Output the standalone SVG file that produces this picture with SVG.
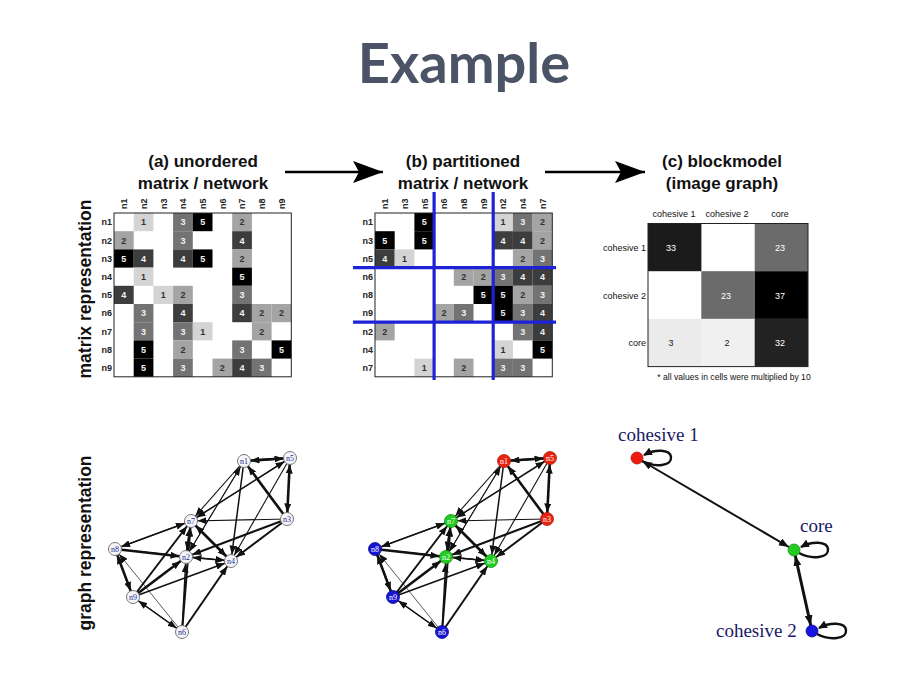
<svg xmlns="http://www.w3.org/2000/svg" width="914" height="673" viewBox="0 0 914 673">
<style>
.title{font-family:Lato,"Liberation Sans",sans-serif;font-weight:bold;font-size:56px;fill:#4a5466;text-anchor:middle}
.hdr{font-family:"Liberation Sans",Arial,sans-serif;font-weight:bold;font-size:17px;fill:#111;text-anchor:middle}
.side{font-family:"Liberation Sans",Arial,sans-serif;font-weight:bold;font-size:17.5px;fill:#111;text-anchor:middle}
.m text{font-family:"Liberation Sans",Arial,sans-serif;font-weight:bold;font-size:9px;text-anchor:middle}
.m .lab{fill:#222}
.m .rl{text-anchor:end}
.m .cl{text-anchor:start}
.c1{fill:#d4d4d4}.c2{fill:#a4a4a4}.c3{fill:#737373}.c4{fill:#3d3d3d}.c5{fill:#000}
.tk{fill:#333}.tw{fill:#f2f2f2}
.frame{fill:none;stroke:#222;stroke-width:1}
.blue{stroke:#1e22d6;stroke-width:3.2}
.bm text{font-family:"Liberation Sans",Arial,sans-serif;font-size:9px;fill:#111;text-anchor:middle}
.bm .rl{text-anchor:end}
.bm .vw{fill:#fff}
.bm .vd{fill:#222}
.e line{stroke:#111;fill:none;marker-end:url(#ah)}
.w1{stroke-width:0.7}.w2{stroke-width:1.1}.w3{stroke-width:1.5}.w4{stroke-width:2}.w5{stroke-width:2.6}
.na circle{fill:#f5f5fb;stroke:#777;stroke-width:1}
.na text{font-family:"Liberation Serif","Times New Roman",serif;font-size:8px;fill:#2a2a8e;text-anchor:middle}
.nb text{font-family:"Liberation Serif","Times New Roman",serif;font-size:8px;fill:#fff;text-anchor:middle}
.red{fill:#e8230f;stroke:#b01a0a;stroke-width:0.8}
.grn{fill:#22cc22;stroke:#159015;stroke-width:0.8}
.blu{fill:#1616d2;stroke:#0c0c90;stroke-width:0.8}
.gl{font-family:"Liberation Serif","Times New Roman",serif;font-size:19px;fill:#1a1a66}
</style>
<defs>
<marker id="ah" markerUnits="userSpaceOnUse" markerWidth="9" markerHeight="7" refX="15.5" refY="3.5" orient="auto"><path d="M0,0 L9,3.5 L0,7 z" fill="#111"/></marker>
<marker id="ahc" markerUnits="userSpaceOnUse" markerWidth="10" markerHeight="8" refX="16" refY="4" orient="auto-start-reverse"><path d="M0,0 L10,4 L0,8 z" fill="#111"/></marker>
<marker id="ahl" markerUnits="userSpaceOnUse" markerWidth="9" markerHeight="8" refX="8" refY="4" orient="auto"><path d="M0,0 L9,4 L0,8 z" fill="#111"/></marker>
<marker id="big" markerUnits="userSpaceOnUse" markerWidth="30" markerHeight="22" refX="30" refY="11" orient="auto"><path d="M0,0 L30,11 L0,22 L6,11 z" fill="#000"/></marker>
</defs>
<rect width="914" height="673" fill="#fff"/>
<text class="title" x="464" y="83">Example</text>

<g id="headers">
<text class="hdr" x="203" y="167">(a) unordered</text>
<text class="hdr" x="203" y="189">matrix / network</text>
<text class="hdr" x="463" y="167">(b) partitioned</text>
<text class="hdr" x="463" y="189">matrix / network</text>
<text class="hdr" x="722" y="167">(c) blockmodel</text>
<text class="hdr" x="722" y="189">(image graph)</text>
</g>
<g id="flow-arrows" stroke="#000" stroke-width="2.5">
<line x1="285" y1="172" x2="383" y2="172" marker-end="url(#big)"/>
<line x1="545" y1="172" x2="645" y2="172" marker-end="url(#big)"/>
</g>
<text class="side" transform="translate(91,289) rotate(-90)">matrix representation</text>
<text class="side" transform="translate(91,543) rotate(-90)">graph representation</text>

<!-- matrix (a) -->
<g id="matrix-a" class="m" transform="translate(114,213)">
<g class="lab">
<text class="cl" transform="translate(13.15,-4) rotate(-90)">n1</text>
<text class="cl" transform="translate(32.85,-4) rotate(-90)">n2</text>
<text class="cl" transform="translate(52.55,-4) rotate(-90)">n3</text>
<text class="cl" transform="translate(72.25,-4) rotate(-90)">n4</text>
<text class="cl" transform="translate(91.95,-4) rotate(-90)">n5</text>
<text class="cl" transform="translate(111.65,-4) rotate(-90)">n6</text>
<text class="cl" transform="translate(131.35,-4) rotate(-90)">n7</text>
<text class="cl" transform="translate(151.05,-4) rotate(-90)">n8</text>
<text class="cl" transform="translate(170.75,-4) rotate(-90)">n9</text>
<text class="rl" x="-2" y="12.3">n1</text>
<text class="rl" x="-2" y="30.5">n2</text>
<text class="rl" x="-2" y="48.7">n3</text>
<text class="rl" x="-2" y="66.9">n4</text>
<text class="rl" x="-2" y="85.1">n5</text>
<text class="rl" x="-2" y="103.3">n6</text>
<text class="rl" x="-2" y="121.5">n7</text>
<text class="rl" x="-2" y="139.7">n8</text>
<text class="rl" x="-2" y="157.9">n9</text>
</g>
<rect class="c1" x="19.7" y="0" width="19.7" height="18.2"/><text class="tk" x="29.55" y="12.3">1</text>
<rect class="c3" x="59.1" y="0" width="19.7" height="18.2"/><text class="tw" x="68.95" y="12.3">3</text>
<rect class="c5" x="78.8" y="0" width="19.7" height="18.2"/><text class="tw" x="88.65" y="12.3">5</text>
<rect class="c2" x="118.2" y="0" width="19.7" height="18.2"/><text class="tk" x="128.05" y="12.3">2</text>

<rect class="c2" x="0" y="18.2" width="19.7" height="18.2"/><text class="tk" x="9.85" y="30.5">2</text>
<rect class="c3" x="59.1" y="18.2" width="19.7" height="18.2"/><text class="tw" x="68.95" y="30.5">3</text>
<rect class="c4" x="118.2" y="18.2" width="19.7" height="18.2"/><text class="tw" x="128.05" y="30.5">4</text>

<rect class="c5" x="0" y="36.4" width="19.7" height="18.2"/><text class="tw" x="9.85" y="48.7">5</text>
<rect class="c4" x="19.7" y="36.4" width="19.7" height="18.2"/><text class="tw" x="29.55" y="48.7">4</text>
<rect class="c4" x="59.1" y="36.4" width="19.7" height="18.2"/><text class="tw" x="68.95" y="48.7">4</text>
<rect class="c5" x="78.8" y="36.4" width="19.7" height="18.2"/><text class="tw" x="88.65" y="48.7">5</text>
<rect class="c2" x="118.2" y="36.4" width="19.7" height="18.2"/><text class="tk" x="128.05" y="48.7">2</text>

<rect class="c1" x="19.7" y="54.6" width="19.7" height="18.2"/><text class="tk" x="29.55" y="66.9">1</text>
<rect class="c5" x="118.2" y="54.6" width="19.7" height="18.2"/><text class="tw" x="128.05" y="66.9">5</text>

<rect class="c4" x="0" y="72.8" width="19.7" height="18.2"/><text class="tw" x="9.85" y="85.1">4</text>
<rect class="c1" x="39.4" y="72.8" width="19.7" height="18.2"/><text class="tk" x="49.25" y="85.1">1</text>
<rect class="c2" x="59.1" y="72.8" width="19.7" height="18.2"/><text class="tk" x="68.95" y="85.1">2</text>
<rect class="c3" x="118.2" y="72.8" width="19.7" height="18.2"/><text class="tw" x="128.05" y="85.1">3</text>

<rect class="c3" x="19.7" y="91" width="19.7" height="18.2"/><text class="tw" x="29.55" y="103.3">3</text>
<rect class="c4" x="59.1" y="91" width="19.7" height="18.2"/><text class="tw" x="68.95" y="103.3">4</text>
<rect class="c4" x="118.2" y="91" width="19.7" height="18.2"/><text class="tw" x="128.05" y="103.3">4</text>
<rect class="c2" x="137.9" y="91" width="19.7" height="18.2"/><text class="tk" x="147.75" y="103.3">2</text>
<rect class="c2" x="157.6" y="91" width="19.7" height="18.2"/><text class="tk" x="167.45" y="103.3">2</text>

<rect class="c3" x="19.7" y="109.2" width="19.7" height="18.2"/><text class="tw" x="29.55" y="121.5">3</text>
<rect class="c3" x="59.1" y="109.2" width="19.7" height="18.2"/><text class="tw" x="68.95" y="121.5">3</text>
<rect class="c1" x="78.8" y="109.2" width="19.7" height="18.2"/><text class="tk" x="88.65" y="121.5">1</text>
<rect class="c2" x="137.9" y="109.2" width="19.7" height="18.2"/><text class="tk" x="147.75" y="121.5">2</text>

<rect class="c5" x="19.7" y="127.4" width="19.7" height="18.2"/><text class="tw" x="29.55" y="139.7">5</text>
<rect class="c2" x="59.1" y="127.4" width="19.7" height="18.2"/><text class="tk" x="68.95" y="139.7">2</text>
<rect class="c3" x="118.2" y="127.4" width="19.7" height="18.2"/><text class="tw" x="128.05" y="139.7">3</text>
<rect class="c5" x="157.6" y="127.4" width="19.7" height="18.2"/><text class="tw" x="167.45" y="139.7">5</text>

<rect class="c5" x="19.7" y="145.6" width="19.7" height="18.2"/><text class="tw" x="29.55" y="157.9">5</text>
<rect class="c3" x="59.1" y="145.6" width="19.7" height="18.2"/><text class="tw" x="68.95" y="157.9">3</text>
<rect class="c2" x="98.5" y="145.6" width="19.7" height="18.2"/><text class="tk" x="108.35" y="157.9">2</text>
<rect class="c4" x="118.2" y="145.6" width="19.7" height="18.2"/><text class="tw" x="128.05" y="157.9">4</text>
<rect class="c3" x="137.9" y="145.6" width="19.7" height="18.2"/><text class="tw" x="147.75" y="157.9">3</text>
<rect class="frame" x="0" y="0" width="177.3" height="163.8"/>
</g>

<!-- matrix (b) -->
<g id="matrix-b" class="m" transform="translate(375,213)">
<g class="lab">
<text class="cl" transform="translate(13.15,-4) rotate(-90)">n1</text>
<text class="cl" transform="translate(32.85,-4) rotate(-90)">n3</text>
<text class="cl" transform="translate(52.55,-4) rotate(-90)">n5</text>
<text class="cl" transform="translate(72.25,-4) rotate(-90)">n6</text>
<text class="cl" transform="translate(91.95,-4) rotate(-90)">n8</text>
<text class="cl" transform="translate(111.65,-4) rotate(-90)">n9</text>
<text class="cl" transform="translate(131.35,-4) rotate(-90)">n2</text>
<text class="cl" transform="translate(151.05,-4) rotate(-90)">n4</text>
<text class="cl" transform="translate(170.75,-4) rotate(-90)">n7</text>
<text class="rl" x="-2" y="12.3">n1</text>
<text class="rl" x="-2" y="30.5">n3</text>
<text class="rl" x="-2" y="48.7">n5</text>
<text class="rl" x="-2" y="66.9">n6</text>
<text class="rl" x="-2" y="85.1">n8</text>
<text class="rl" x="-2" y="103.3">n9</text>
<text class="rl" x="-2" y="121.5">n2</text>
<text class="rl" x="-2" y="139.7">n4</text>
<text class="rl" x="-2" y="157.9">n7</text>
</g>
<rect class="c5" x="39.4" y="0" width="19.7" height="18.2"/><text class="tw" x="49.25" y="12.3">5</text>
<rect class="c1" x="118.2" y="0" width="19.7" height="18.2"/><text class="tk" x="128.05" y="12.3">1</text>
<rect class="c3" x="137.9" y="0" width="19.7" height="18.2"/><text class="tw" x="147.75" y="12.3">3</text>
<rect class="c2" x="157.6" y="0" width="19.7" height="18.2"/><text class="tk" x="167.45" y="12.3">2</text>

<rect class="c5" x="0" y="18.2" width="19.7" height="18.2"/><text class="tw" x="9.85" y="30.5">5</text>
<rect class="c5" x="39.4" y="18.2" width="19.7" height="18.2"/><text class="tw" x="49.25" y="30.5">5</text>
<rect class="c4" x="118.2" y="18.2" width="19.7" height="18.2"/><text class="tw" x="128.05" y="30.5">4</text>
<rect class="c4" x="137.9" y="18.2" width="19.7" height="18.2"/><text class="tw" x="147.75" y="30.5">4</text>
<rect class="c2" x="157.6" y="18.2" width="19.7" height="18.2"/><text class="tk" x="167.45" y="30.5">2</text>

<rect class="c4" x="0" y="36.4" width="19.7" height="18.2"/><text class="tw" x="9.85" y="48.7">4</text>
<rect class="c1" x="19.7" y="36.4" width="19.7" height="18.2"/><text class="tk" x="29.55" y="48.7">1</text>
<rect class="c2" x="137.9" y="36.4" width="19.7" height="18.2"/><text class="tk" x="147.75" y="48.7">2</text>
<rect class="c3" x="157.6" y="36.4" width="19.7" height="18.2"/><text class="tw" x="167.45" y="48.7">3</text>

<rect class="c2" x="78.8" y="54.6" width="19.7" height="18.2"/><text class="tk" x="88.65" y="66.9">2</text>
<rect class="c2" x="98.5" y="54.6" width="19.7" height="18.2"/><text class="tk" x="108.35" y="66.9">2</text>
<rect class="c3" x="118.2" y="54.6" width="19.7" height="18.2"/><text class="tw" x="128.05" y="66.9">3</text>
<rect class="c4" x="137.9" y="54.6" width="19.7" height="18.2"/><text class="tw" x="147.75" y="66.9">4</text>
<rect class="c4" x="157.6" y="54.6" width="19.7" height="18.2"/><text class="tw" x="167.45" y="66.9">4</text>

<rect class="c5" x="98.5" y="72.8" width="19.7" height="18.2"/><text class="tw" x="108.35" y="85.1">5</text>
<rect class="c5" x="118.2" y="72.8" width="19.7" height="18.2"/><text class="tw" x="128.05" y="85.1">5</text>
<rect class="c2" x="137.9" y="72.8" width="19.7" height="18.2"/><text class="tk" x="147.75" y="85.1">2</text>
<rect class="c3" x="157.6" y="72.8" width="19.7" height="18.2"/><text class="tw" x="167.45" y="85.1">3</text>

<rect class="c2" x="59.1" y="91" width="19.7" height="18.2"/><text class="tk" x="68.95" y="103.3">2</text>
<rect class="c3" x="78.8" y="91" width="19.7" height="18.2"/><text class="tw" x="88.65" y="103.3">3</text>
<rect class="c5" x="118.2" y="91" width="19.7" height="18.2"/><text class="tw" x="128.05" y="103.3">5</text>
<rect class="c3" x="137.9" y="91" width="19.7" height="18.2"/><text class="tw" x="147.75" y="103.3">3</text>
<rect class="c4" x="157.6" y="91" width="19.7" height="18.2"/><text class="tw" x="167.45" y="103.3">4</text>

<rect class="c2" x="0" y="109.2" width="19.7" height="18.2"/><text class="tk" x="9.85" y="121.5">2</text>
<rect class="c3" x="137.9" y="109.2" width="19.7" height="18.2"/><text class="tw" x="147.75" y="121.5">3</text>
<rect class="c4" x="157.6" y="109.2" width="19.7" height="18.2"/><text class="tw" x="167.45" y="121.5">4</text>

<rect class="c1" x="118.2" y="127.4" width="19.7" height="18.2"/><text class="tk" x="128.05" y="139.7">1</text>
<rect class="c5" x="157.6" y="127.4" width="19.7" height="18.2"/><text class="tw" x="167.45" y="139.7">5</text>

<rect class="c1" x="39.4" y="145.6" width="19.7" height="18.2"/><text class="tk" x="49.25" y="157.9">1</text>
<rect class="c2" x="78.8" y="145.6" width="19.7" height="18.2"/><text class="tk" x="88.65" y="157.9">2</text>
<rect class="c3" x="118.2" y="145.6" width="19.7" height="18.2"/><text class="tw" x="128.05" y="157.9">3</text>
<rect class="c3" x="137.9" y="145.6" width="19.7" height="18.2"/><text class="tw" x="147.75" y="157.9">3</text>
<rect class="frame" x="0" y="0" width="177.3" height="163.8"/>
<g class="blue">
<line x1="59.1" y1="-21" x2="59.1" y2="167"/>
<line x1="118.2" y1="-21" x2="118.2" y2="167"/>
<line x1="-22" y1="54.6" x2="181" y2="54.6"/>
<line x1="-22" y1="109.2" x2="181" y2="109.2"/>
</g>
</g>

<!-- blockmodel (c) -->
<g id="matrix-c" class="bm">
<text x="674" y="217">cohesive 1</text>
<text x="727" y="217">cohesive 2</text>
<text x="780" y="217">core</text>
<text class="rl" x="646" y="250.5">cohesive 1</text>
<text class="rl" x="646" y="298.5">cohesive 2</text>
<text class="rl" x="646" y="346">core</text>
<rect x="648" y="223.5" width="53.4" height="47.7" fill="#1b1b1b"/>
<rect x="754.7" y="223.5" width="53.3" height="47.7" fill="#6b6b6b"/>
<rect x="701.3" y="271.2" width="53.4" height="47.7" fill="#6b6b6b"/>
<rect x="754.7" y="271.2" width="53.3" height="47.7" fill="#000"/>
<rect x="648" y="318.9" width="53.4" height="47.7" fill="#ebebeb"/>
<rect x="701.3" y="318.9" width="53.4" height="47.7" fill="#f0f0f0"/>
<rect x="754.7" y="318.9" width="53.3" height="47.7" fill="#222"/>
<rect class="frame" x="648" y="223.5" width="160" height="143.1"/>
<text class="vw" x="671" y="250.5">33</text>
<text class="vw" x="780" y="250.5">23</text>
<text class="vw" x="726" y="298.5">23</text>
<text class="vw" x="780" y="298.5">37</text>
<text class="vd" x="671" y="346">3</text>
<text class="vd" x="727" y="346">2</text>
<text class="vw" x="780" y="346">32</text>
<text x="734" y="380" style="font-size:8.6px">* all values in cells were multiplied by 10</text>
</g>

<!-- graph (a) -->
<g id="edges-a" class="e">
<line class="w1" x1="244" y1="461" x2="186" y2="557"/>
<line class="w3" x1="244" y1="461" x2="231" y2="561"/>
<line class="w5" x1="244" y1="461" x2="290" y2="458"/>
<line class="w2" x1="244" y1="461" x2="191" y2="521"/>
<line class="w2" x1="186" y1="557" x2="244" y2="461"/>
<line class="w3" x1="186" y1="557" x2="231" y2="561"/>
<line class="w4" x1="186" y1="557" x2="191" y2="521"/>
<line class="w5" x1="287" y1="519" x2="244" y2="461"/>
<line class="w4" x1="287" y1="519" x2="186" y2="557"/>
<line class="w4" x1="287" y1="519" x2="231" y2="561"/>
<line class="w5" x1="287" y1="519" x2="290" y2="458"/>
<line class="w2" x1="287" y1="519" x2="191" y2="521"/>
<line class="w1" x1="231" y1="561" x2="186" y2="557"/>
<line class="w5" x1="231" y1="561" x2="191" y2="521"/>
<line class="w4" x1="290" y1="458" x2="244" y2="461"/>
<line class="w1" x1="290" y1="458" x2="287" y2="519"/>
<line class="w2" x1="290" y1="458" x2="231" y2="561"/>
<line class="w3" x1="290" y1="458" x2="191" y2="521"/>
<line class="w3" x1="182" y1="632" x2="186" y2="557"/>
<line class="w4" x1="182" y1="632" x2="231" y2="561"/>
<line class="w4" x1="182" y1="632" x2="191" y2="521"/>
<line class="w1" x1="182" y1="632" x2="115" y2="549"/>
<line class="w2" x1="182" y1="632" x2="133" y2="597"/>
<line class="w3" x1="191" y1="521" x2="186" y2="557"/>
<line class="w3" x1="191" y1="521" x2="231" y2="561"/>
<line class="w1" x1="191" y1="521" x2="290" y2="458"/>
<line class="w2" x1="191" y1="521" x2="115" y2="549"/>
<line class="w5" x1="115" y1="549" x2="186" y2="557"/>
<line class="w2" x1="115" y1="549" x2="231" y2="561"/>
<line class="w3" x1="115" y1="549" x2="191" y2="521"/>
<line class="w5" x1="115" y1="549" x2="133" y2="597"/>
<line class="w5" x1="133" y1="597" x2="186" y2="557"/>
<line class="w3" x1="133" y1="597" x2="231" y2="561"/>
<line class="w2" x1="133" y1="597" x2="182" y2="632"/>
<line class="w4" x1="133" y1="597" x2="191" y2="521"/>
<line class="w3" x1="133" y1="597" x2="115" y2="549"/>
</g>
<g id="a-n1" class="na"><circle cx="244" cy="461" r="6.5"/><text x="244" y="464">n1</text></g>
<g id="a-n2" class="na"><circle cx="186" cy="557" r="6.5"/><text x="186" y="560">n2</text></g>
<g id="a-n3" class="na"><circle cx="287" cy="519" r="6.5"/><text x="287" y="522">n3</text></g>
<g id="a-n4" class="na"><circle cx="231" cy="561" r="6.5"/><text x="231" y="564">n4</text></g>
<g id="a-n5" class="na"><circle cx="290" cy="458" r="6.5"/><text x="290" y="461">n5</text></g>
<g id="a-n6" class="na"><circle cx="182" cy="632" r="6.5"/><text x="182" y="635">n6</text></g>
<g id="a-n7" class="na"><circle cx="191" cy="521" r="6.5"/><text x="191" y="524">n7</text></g>
<g id="a-n8" class="na"><circle cx="115" cy="549" r="6.5"/><text x="115" y="552">n8</text></g>
<g id="a-n9" class="na"><circle cx="133" cy="597" r="6.5"/><text x="133" y="600">n9</text></g>

<!-- graph (b) -->
<g id="edges-b" class="e" transform="translate(260,0)">
<line class="w1" x1="244" y1="461" x2="186" y2="557"/>
<line class="w3" x1="244" y1="461" x2="231" y2="561"/>
<line class="w5" x1="244" y1="461" x2="290" y2="458"/>
<line class="w2" x1="244" y1="461" x2="191" y2="521"/>
<line class="w2" x1="186" y1="557" x2="244" y2="461"/>
<line class="w3" x1="186" y1="557" x2="231" y2="561"/>
<line class="w4" x1="186" y1="557" x2="191" y2="521"/>
<line class="w5" x1="287" y1="519" x2="244" y2="461"/>
<line class="w4" x1="287" y1="519" x2="186" y2="557"/>
<line class="w4" x1="287" y1="519" x2="231" y2="561"/>
<line class="w5" x1="287" y1="519" x2="290" y2="458"/>
<line class="w2" x1="287" y1="519" x2="191" y2="521"/>
<line class="w1" x1="231" y1="561" x2="186" y2="557"/>
<line class="w5" x1="231" y1="561" x2="191" y2="521"/>
<line class="w4" x1="290" y1="458" x2="244" y2="461"/>
<line class="w1" x1="290" y1="458" x2="287" y2="519"/>
<line class="w2" x1="290" y1="458" x2="231" y2="561"/>
<line class="w3" x1="290" y1="458" x2="191" y2="521"/>
<line class="w3" x1="182" y1="632" x2="186" y2="557"/>
<line class="w4" x1="182" y1="632" x2="231" y2="561"/>
<line class="w4" x1="182" y1="632" x2="191" y2="521"/>
<line class="w1" x1="182" y1="632" x2="115" y2="549"/>
<line class="w2" x1="182" y1="632" x2="133" y2="597"/>
<line class="w3" x1="191" y1="521" x2="186" y2="557"/>
<line class="w3" x1="191" y1="521" x2="231" y2="561"/>
<line class="w1" x1="191" y1="521" x2="290" y2="458"/>
<line class="w2" x1="191" y1="521" x2="115" y2="549"/>
<line class="w5" x1="115" y1="549" x2="186" y2="557"/>
<line class="w2" x1="115" y1="549" x2="231" y2="561"/>
<line class="w3" x1="115" y1="549" x2="191" y2="521"/>
<line class="w5" x1="115" y1="549" x2="133" y2="597"/>
<line class="w5" x1="133" y1="597" x2="186" y2="557"/>
<line class="w3" x1="133" y1="597" x2="231" y2="561"/>
<line class="w2" x1="133" y1="597" x2="182" y2="632"/>
<line class="w4" x1="133" y1="597" x2="191" y2="521"/>
<line class="w3" x1="133" y1="597" x2="115" y2="549"/>
</g>
<g id="b-n1" class="nb"><circle class="red" cx="504" cy="461" r="6.5"/><text x="504" y="464">n1</text></g>
<g id="b-n5" class="nb"><circle class="red" cx="550" cy="458" r="6.5"/><text x="550" y="461">n5</text></g>
<g id="b-n3" class="nb"><circle class="red" cx="547" cy="519" r="6.5"/><text x="547" y="522">n3</text></g>
<g id="b-n7" class="nb"><circle class="grn" cx="451" cy="521" r="6.5"/><text x="451" y="524">n7</text></g>
<g id="b-n2" class="nb"><circle class="grn" cx="446" cy="557" r="6.5"/><text x="446" y="560">n2</text></g>
<g id="b-n4" class="nb"><circle class="grn" cx="491" cy="561" r="6.5"/><text x="491" y="564">n4</text></g>
<g id="b-n8" class="nb"><circle class="blu" cx="375" cy="549" r="6.5"/><text x="375" y="552">n8</text></g>
<g id="b-n9" class="nb"><circle class="blu" cx="393" cy="597" r="6.5"/><text x="393" y="600">n9</text></g>
<g id="b-n6" class="nb"><circle class="blu" cx="442" cy="632" r="6.5"/><text x="442" y="635">n6</text></g>

<!-- graph (c) -->
<g id="edges-c" fill="none" stroke="#111">
<line x1="637" y1="458" x2="794" y2="550" stroke-width="2" marker-start="url(#ahc)" marker-end="url(#ahc)"/>
<line x1="794" y1="550" x2="812" y2="631" stroke-width="3" marker-start="url(#ahc)" marker-end="url(#ahc)"/>
<path d="M642,461 C655,468 672,466 671,457 C670,449 655,449 644,455" stroke-width="2.4" marker-end="url(#ahl)"/>
<path d="M799,553 C812,560 829,558 828,549 C827,541 812,541 801,547" stroke-width="2.4" marker-end="url(#ahl)"/>
<path d="M817,634 C830,641 847,639 846,630 C845,622 830,622 819,628" stroke-width="2.4" marker-end="url(#ahl)"/>
</g>
<g id="c-cohesive1"><circle cx="637" cy="458" r="6" fill="#ee1c0e" stroke="#b01a0a" stroke-width="0.8"/><text class="gl" x="618" y="441">cohesive 1</text></g>
<g id="c-core"><circle cx="794" cy="550" r="6" fill="#22cc22" stroke="#159015" stroke-width="0.8"/><text class="gl" x="800" y="532">core</text></g>
<g id="c-cohesive2"><circle cx="812" cy="631" r="6" fill="#1616e0" stroke="#0c0c90" stroke-width="0.8"/><text class="gl" x="716" y="637">cohesive 2</text></g>
</svg>
